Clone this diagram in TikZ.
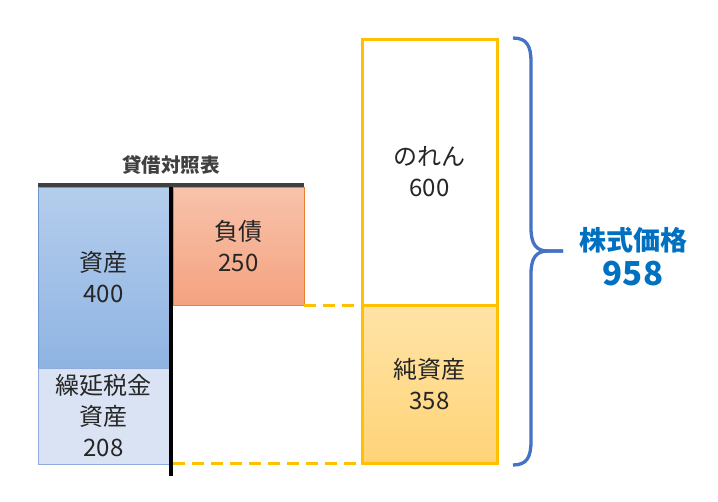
\documentclass[tikz,border=0pt]{standalone}
\usepackage{fontspec}
\setmainfont{Noto Sans CJK JP}
\usetikzlibrary{positioning}

\definecolor{txt}{HTML}{262626}
\definecolor{barcol}{HTML}{404040}
\definecolor{assettop}{HTML}{B4CDEC}
\definecolor{assetbot}{HTML}{8FB4E3}
\definecolor{assetline}{HTML}{7297CF}
\definecolor{taxfill}{HTML}{DAE3F3}
\definecolor{taxline}{HTML}{8FAADC}
\definecolor{liabtop}{HTML}{F8C3AC}
\definecolor{liabbot}{HTML}{F4A27F}
\definecolor{liabline}{HTML}{ED7D31}
\definecolor{nettop}{HTML}{FFE3A6}
\definecolor{netbot}{HTML}{FFD478}
\definecolor{gold}{HTML}{FFC000}
\definecolor{bracecol}{HTML}{4472C4}
\definecolor{pricecol}{HTML}{0070C0}

\begin{document}
\begin{tikzpicture}[x=1pt,y=-1pt,
		box/.style={rectangle,inner sep=0pt,outer sep=0pt,anchor=north west,align=center,text=txt,font=\fontsize{24}{31}\selectfont},
		goldbox/.style={box,draw=gold,line width=3pt},
		goldlink/.style={draw=gold,line width=3pt,dash pattern=on 12pt off 7pt}]
		\useasboundingbox (0,0) rectangle (718,501);
		%Balance sheet
		\node[font=\bfseries\fontsize{19.5}{22}\selectfont,text=barcol] (title) at (171,165) {貸借対照表};
		\node[box,draw=assetline,top color=assettop,bottom color=assetbot,minimum width=131pt,minimum height=181pt] (asset) at (38,187) {資産\\400};
		\node[box,draw=taxline,fill=taxfill,minimum width=131pt,minimum height=96pt] (tax) at (asset.south west) {繰延税金\\資産\\208};
		\node[box,draw=liabline,top color=liabtop,bottom color=liabbot,minimum width=131pt,minimum height=118pt] (liab) at (173,187) {負債\\250};
		\draw[line width=4pt,color=barcol] (38,185) -- (304,185);
		\draw[line width=3.5pt,color=black] (171,187) -- (171,476);
		%Price
		\node[goldbox,fill=white,minimum width=135pt,minimum height=266pt] (gw) at (362,39) {のれん\\600};
		\node[goldbox,top color=nettop,bottom color=netbot,minimum width=135pt,minimum height=158pt] (net) at (gw.south west) {純資産\\358};
		\draw[goldlink] (liab.south east) -- (net.north west);
		\draw[goldlink] (net.south west -| liab.south west) -- (net.south west);
		%Brace
		\coordinate (tip) at (563,251);
		\draw[color=bracecol,line width=3.3pt] (513,38) .. controls (527,38) and (531,46) .. (531,62) -- (531,228)
			.. controls (531,244) and (536,251) .. (548,251) -- (tip);
		\draw[color=bracecol,line width=3.3pt] (tip) -- (548,251) .. controls (536,251) and (531,258) .. (531,274)
			-- (531,441) .. controls (531,457) and (527,465) .. (513,465);
		\node[align=center,text=pricecol,font=\bfseries] (price) at (633,257)
			{{\fontsize{27}{30}\selectfont 株式価格}\\[7pt]{\fontsize{33}{34}\selectfont 958}};
\end{tikzpicture}
\end{document}
